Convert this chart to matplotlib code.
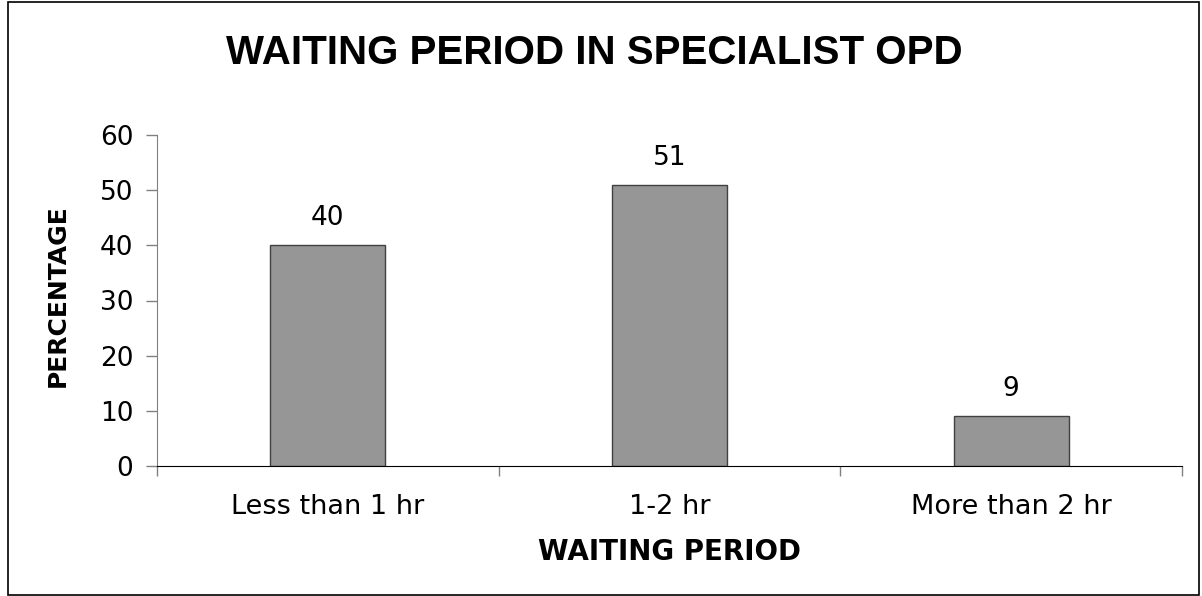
import matplotlib
matplotlib.use("Agg")
import matplotlib.pyplot as plt
from matplotlib.patches import Rectangle

categories = ["Less than 1 hr", "1-2 hr", "More than 2 hr"]
values = [40, 51, 9]
yticks = [0, 10, 20, 30, 40, 50, 60]

REG = ['DejaVu Sans']
plt.rcParams['font.family'] = REG

fig = plt.figure(figsize=(12.02, 5.96), dpi=100)
ax = fig.add_axes([157/1202, 1-466/596, (1182-157)/1202, (466-135)/596])

x = list(range(len(categories)))
ax.bar(x, values, width=0.337, color="#969696", edgecolor="#404040", linewidth=1.0, zorder=2)
for xi, v in zip(x, values):
    ax.annotate(str(v), (xi, v), xytext=(0, 10), textcoords="offset points",
                ha="center", va="bottom", fontsize=19)

ax.set_xlim(-0.5, len(categories) - 0.5)
ax.set_ylim(0, 60)
ax.set_yticks(yticks)
ax.set_yticklabels([str(t) for t in yticks], fontsize=19)
ax.tick_params(axis='y', direction='out', length=8, width=1, color='#808080', pad=9)

ax.set_xticks(x)
ax.set_xticklabels(categories, fontsize=19.5)
ax.tick_params(axis='x', which='major', length=0, pad=20)
ax.set_xticks([i - 0.5 for i in range(len(categories) + 1)], minor=True)
ax.tick_params(axis='x', which='minor', direction='out', length=7, width=1, color='#808080')

for s in ['top', 'right']:
    ax.spines[s].set_visible(False)
ax.spines['left'].set_color('#808080')
ax.spines['bottom'].set_color('black')

ax.set_ylabel("PERCENTAGE", fontsize=18, fontweight='bold', va='center', ha='center')
ax.yaxis.set_label_coords((58-157)/1025, (466-296)/331)
ax.set_xlabel("WAITING PERIOD", fontsize=20, fontweight='bold', va='center', ha='center')
ax.xaxis.set_label_coords(0.5, (466-552)/331)

fig.text(594/1202, 1-53/596, "WAITING PERIOD IN SPECIALIST OPD", ha='center', va='center',
         fontsize=29, fontweight='bold', family=['Liberation Sans', 'DejaVu Sans'])

fig.patches.append(Rectangle((8/1202, 1/596), 1191/1202, 593/596, transform=fig.transFigure,
                             fill=False, edgecolor='black', linewidth=1.2))

fig.savefig("out.png", dpi=100)
